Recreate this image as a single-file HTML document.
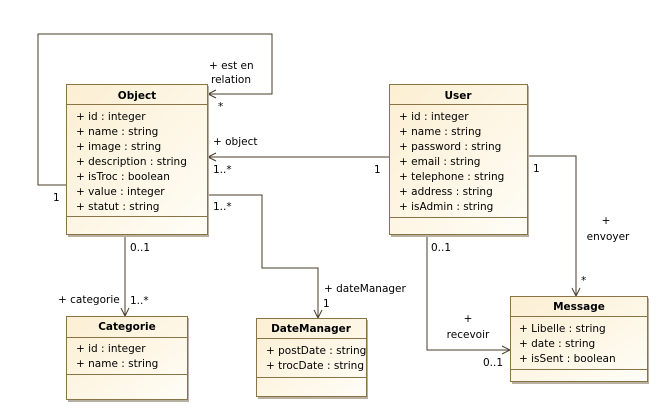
<!DOCTYPE html>
<html><head><meta charset="utf-8"><style>
body{margin:0;background:#fff}
svg{display:block;font-family:"DejaVu Sans",sans-serif;font-size:10.5px}
text{fill:#000}
.b{font-weight:bold}
</style></head><body>
<svg width="660" height="410" viewBox="0 0 660 410" xmlns="http://www.w3.org/2000/svg">
<defs>
<linearGradient id="g" x1="0" y1="0" x2="1" y2="1">
<stop offset="0" stop-color="#fbefd2"/><stop offset="1" stop-color="#fffdf7"/>
</linearGradient>
</defs>
<g fill="none" stroke="#4a3b28" stroke-width="1">
<polyline points="66,185 38,185 38,34 272,34 272,94 208,94"/>
<polyline points="216,90 208,94 216,98"/>
<line x1="389" y1="157" x2="208" y2="157"/>
<polyline points="216,153 208,157 216,161"/>
<polyline points="208,195 262,195 262,268 318,268 318,318"/>
<polyline points="314,310 318,318 322,310"/>
<line x1="125" y1="235" x2="125" y2="316"/>
<polyline points="121,308 125,316 129,308"/>
<polyline points="528,156 576,156 576,296"/>
<polyline points="572,288 576,296 580,288"/>
<polyline points="427,235 427,350 510,350"/>
<polyline points="502,346 510,350 502,354"/>
</g>
<g fill="#b8b0a0">
<rect x="68" y="86" width="141" height="151"/>
<rect x="391" y="86" width="138" height="151"/>
<rect x="512" y="298" width="137" height="86"/>
<rect x="68" y="318" width="121" height="84"/>
<rect x="258" y="320" width="110" height="79"/>
</g>
<g stroke="#8a7446" stroke-width="1">
<rect x="66.5" y="84.5" width="141" height="150" fill="url(#g)"/>
<line x1="66" y1="104.5" x2="208" y2="104.5"/><line x1="66" y1="216.5" x2="208" y2="216.5"/>
<rect x="389.5" y="84.5" width="138" height="150" fill="url(#g)"/>
<line x1="389" y1="104.5" x2="528" y2="104.5"/><line x1="389" y1="217.5" x2="528" y2="217.5"/>
<rect x="510.5" y="296.5" width="137" height="85" fill="url(#g)"/>
<line x1="510" y1="316.5" x2="648" y2="316.5"/><line x1="510" y1="369.5" x2="648" y2="369.5"/>
<rect x="66.5" y="316.5" width="121" height="83" fill="url(#g)"/>
<line x1="66" y1="337.5" x2="188" y2="337.5"/><line x1="66" y1="374.5" x2="188" y2="374.5"/>
<rect x="256.5" y="318.5" width="110" height="78" fill="url(#g)"/>
<line x1="256" y1="338.5" x2="367" y2="338.5"/><line x1="256" y1="377.5" x2="367" y2="377.5"/>
</g>
<text class="b" x="137" y="99" text-anchor="middle">Object</text>
<text x="76" y="120">+ id : integer</text>
<text x="76" y="135">+ name : string</text>
<text x="76" y="150">+ image : string</text>
<text x="76" y="165">+ description : string</text>
<text x="76" y="180">+ isTroc : boolean</text>
<text x="76" y="195">+ value : integer</text>
<text x="76" y="210">+ statut : string</text>
<text class="b" x="458" y="99" text-anchor="middle">User</text>
<text x="399" y="120">+ id : integer</text>
<text x="399" y="135">+ name : string</text>
<text x="399" y="150">+ password : string</text>
<text x="399" y="165">+ email : string</text>
<text x="399" y="180">+ telephone : string</text>
<text x="399" y="195">+ address : string</text>
<text x="399" y="210">+ isAdmin : string</text>
<text class="b" x="579" y="310" text-anchor="middle">Message</text>
<text x="519" y="332">+ Libelle : string</text>
<text x="519" y="347">+ date : string</text>
<text x="519" y="362">+ isSent : boolean</text>
<text class="b" x="127" y="330" text-anchor="middle">Categorie</text>
<text x="76" y="352">+ id : integer</text>
<text x="76" y="367">+ name : string</text>
<text class="b" x="311" y="332" text-anchor="middle">DateManager</text>
<text x="266" y="354">+ postDate : string</text>
<text x="266" y="369">+ trocDate : string</text>
<text x="209" y="69">+ est en</text>
<text x="211" y="83">relation</text>
<text x="218" y="110">*</text>
<text x="53" y="201">1</text>
<text x="213" y="145">+ object</text>
<text x="213" y="173">1..*</text>
<text x="374" y="173">1</text>
<text x="213" y="210">1..*</text>
<text x="324" y="292">+ dateManager</text>
<text x="323" y="307">1</text>
<text x="130" y="251">0..1</text>
<text x="58" y="303">+ categorie</text>
<text x="130" y="304">1..*</text>
<text x="533" y="172">1</text>
<text x="606" y="224" text-anchor="middle">+</text>
<text x="608" y="240" text-anchor="middle">envoyer</text>
<text x="581" y="284">*</text>
<text x="431" y="251">0..1</text>
<text x="468" y="322" text-anchor="middle">+</text>
<text x="468" y="338" text-anchor="middle">recevoir</text>
<text x="483" y="366">0..1</text>
</svg>
</body></html>
